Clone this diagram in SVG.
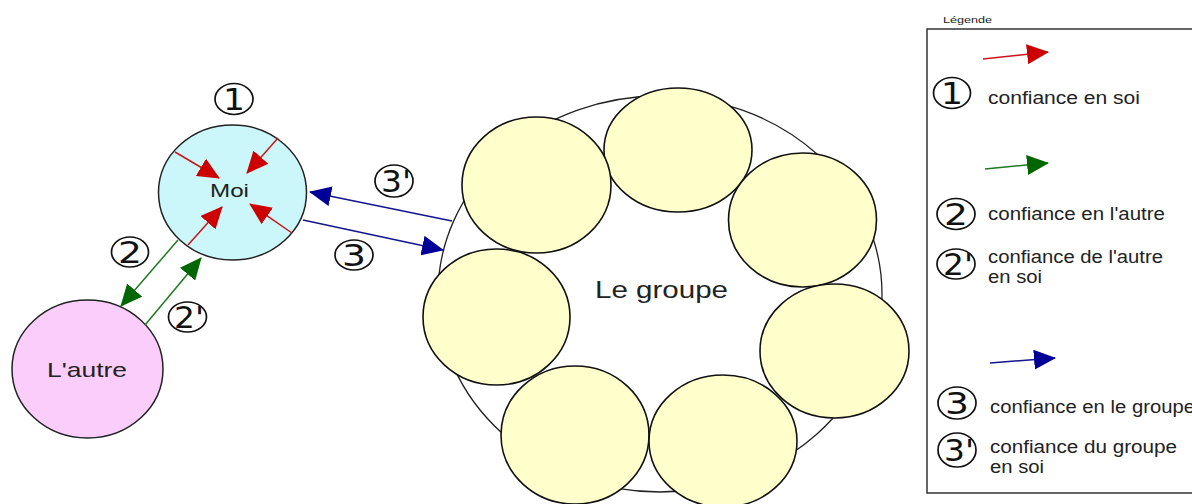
<svg xmlns="http://www.w3.org/2000/svg" width="1192" height="504" viewBox="0 0 1192 504">
  <style>
    .lbl { font-family: "Liberation Sans", Arial, sans-serif; fill: #222; }
    .num { font-family: "DejaVu Sans", sans-serif; font-size: 31px; fill: #111; text-anchor: middle; }
    .ring { fill: none; stroke: #111; stroke-width: 1.7; }
    .member { fill: #ffffcc; stroke: #111; stroke-width: 1.6; }
    .red { stroke: #c8161b; stroke-width: 1.5; fill: none; }
    .green { stroke: #1e7a1e; stroke-width: 1.5; fill: none; }
    .blue { stroke: #14148c; stroke-width: 1.5; fill: none; }
  </style>
  <defs>
    <marker id="ah-red" markerWidth="22" markerHeight="20" refX="21" refY="10" orient="auto" markerUnits="userSpaceOnUse">
      <path d="M0,0 L22,10 L0,20 z" fill="#cc0000"/>
    </marker>
    <marker id="ah-green" markerWidth="22" markerHeight="20" refX="21" refY="10" orient="auto" markerUnits="userSpaceOnUse">
      <path d="M0,0 L22,10 L0,20 z" fill="#006600"/>
    </marker>
    <marker id="ah-blue" markerWidth="22" markerHeight="20" refX="21" refY="10" orient="auto" markerUnits="userSpaceOnUse">
      <path d="M0,0 L22,10 L0,20 z" fill="#000099"/>
    </marker>
  </defs>

  <rect width="1192" height="504" fill="#ffffff"/>

  <!-- group: outer ring and its members -->
  <g id="groupe">
    <ellipse cx="660" cy="294" rx="222" ry="198" fill="#ffffff" stroke="#222" stroke-width="1.3"/>
    <ellipse class="member" cx="678" cy="150" rx="74" ry="62"/>
    <ellipse class="member" cx="536.5" cy="185" rx="74.5" ry="68"/>
    <ellipse class="member" cx="802.5" cy="220" rx="74" ry="67"/>
    <ellipse class="member" cx="496.5" cy="317" rx="73.5" ry="68"/>
    <ellipse class="member" cx="834.5" cy="351" rx="74.5" ry="67"/>
    <ellipse class="member" cx="575" cy="435" rx="74" ry="69"/>
    <ellipse class="member" cx="723" cy="441" rx="74" ry="66"/>
    <text class="lbl" x="595" y="298" font-size="23" textLength="133" lengthAdjust="spacingAndGlyphs">Le groupe</text>
  </g>

  <!-- self -->
  <g id="moi">
    <ellipse cx="232.5" cy="192.5" rx="74" ry="67.5" fill="#ccf7fa" stroke="#222" stroke-width="1.5"/>
    <text class="lbl" x="210" y="197" font-size="19" textLength="39" lengthAdjust="spacingAndGlyphs">Moi</text>
  </g>

  <!-- the other -->
  <g id="autre">
    <ellipse cx="87.5" cy="369" rx="75.5" ry="69" fill="#fbcdfb" stroke="#222" stroke-width="1.5"/>
    <text class="lbl" x="47" y="377" font-size="21" textLength="80" lengthAdjust="spacingAndGlyphs">L'autre</text>
  </g>

  <!-- connectors -->
  <g id="connectors">
    <line class="red" x1="175" y1="152" x2="219" y2="178" marker-end="url(#ah-red)"/>
    <line class="red" x1="278" y1="138" x2="247" y2="173" marker-end="url(#ah-red)"/>
    <line class="red" x1="188" y1="245" x2="222" y2="207" marker-end="url(#ah-red)"/>
    <line class="red" x1="292" y1="233" x2="250" y2="204" marker-end="url(#ah-red)"/>

    <line class="green" x1="178" y1="240" x2="121" y2="306" marker-end="url(#ah-green)"/>
    <line class="green" x1="145" y1="325" x2="201" y2="258" marker-end="url(#ah-green)"/>

    <line class="blue" x1="452" y1="221" x2="310" y2="192" marker-end="url(#ah-blue)"/>
    <line class="blue" x1="303" y1="220" x2="443" y2="250" marker-end="url(#ah-blue)"/>
  </g>

  <!-- circled markers on the drawing -->
  <g id="n1">
    <ellipse class="ring" cx="234" cy="99" rx="19" ry="15.5"/>
    <text class="num" x="234" y="110" textLength="22" lengthAdjust="spacingAndGlyphs">1</text>
  </g>
  <g id="n2">
    <ellipse class="ring" cx="130" cy="252" rx="18.5" ry="15"/>
    <text class="num" x="130" y="263" textLength="24" lengthAdjust="spacingAndGlyphs">2</text>
  </g>
  <g id="n2p">
    <ellipse class="ring" cx="187.5" cy="317" rx="19" ry="15"/>
    <text class="num" x="189" y="328" textLength="30" lengthAdjust="spacingAndGlyphs">2'</text>
  </g>
  <g id="n3p">
    <ellipse class="ring" cx="394" cy="181" rx="19" ry="16"/>
    <text class="num" x="396" y="192" textLength="30" lengthAdjust="spacingAndGlyphs">3'</text>
  </g>
  <g id="n3">
    <ellipse class="ring" cx="354" cy="255" rx="19" ry="15"/>
    <text class="num" x="354" y="266" textLength="24" lengthAdjust="spacingAndGlyphs">3</text>
  </g>

  <!-- legend -->
  <g id="legende">
    <text class="lbl" x="943" y="23" font-size="9" textLength="49" lengthAdjust="spacingAndGlyphs">Légende</text>
    <rect x="927" y="29" width="300" height="464" fill="#ffffff" stroke="#333" stroke-width="1.5"/>

    <line class="red" x1="983" y1="59" x2="1048" y2="52" marker-end="url(#ah-red)"/>
    <g id="leg-n1">
      <ellipse class="ring" cx="952" cy="93" rx="18.5" ry="15.5"/>
      <text class="num" x="952" y="104" textLength="22" lengthAdjust="spacingAndGlyphs">1</text>
    </g>
    <text class="lbl" x="988" y="104" font-size="17.5" textLength="152" lengthAdjust="spacingAndGlyphs">confiance en soi</text>

    <line class="green" x1="985" y1="169" x2="1048" y2="163" marker-end="url(#ah-green)"/>
    <g id="leg-n2">
      <ellipse class="ring" cx="956" cy="214" rx="19" ry="15.5"/>
      <text class="num" x="956" y="225" textLength="24" lengthAdjust="spacingAndGlyphs">2</text>
    </g>
    <text class="lbl" x="988" y="220" font-size="17.5" textLength="177" lengthAdjust="spacingAndGlyphs">confiance en l'autre</text>
    <g id="leg-n2p">
      <ellipse class="ring" cx="956" cy="264" rx="19" ry="15"/>
      <text class="num" x="958" y="275" textLength="30" lengthAdjust="spacingAndGlyphs">2'</text>
    </g>
    <text class="lbl" x="988" y="263" font-size="17.5" textLength="175" lengthAdjust="spacingAndGlyphs">confiance de l'autre</text>
    <text class="lbl" x="988" y="283" font-size="17.5" textLength="54" lengthAdjust="spacingAndGlyphs">en soi</text>

    <line class="blue" x1="990" y1="363" x2="1055" y2="358" marker-end="url(#ah-blue)"/>
    <g id="leg-n3">
      <ellipse class="ring" cx="957" cy="403" rx="19" ry="16"/>
      <text class="num" x="957" y="414" textLength="24" lengthAdjust="spacingAndGlyphs">3</text>
    </g>
    <text class="lbl" x="990" y="413" font-size="17.5" textLength="205" lengthAdjust="spacingAndGlyphs">confiance en le groupe</text>
    <g id="leg-n3p">
      <ellipse class="ring" cx="957" cy="450" rx="19" ry="17"/>
      <text class="num" x="959" y="461" textLength="30" lengthAdjust="spacingAndGlyphs">3'</text>
    </g>
    <text class="lbl" x="990" y="453" font-size="17.5" textLength="187" lengthAdjust="spacingAndGlyphs">confiance du groupe</text>
    <text class="lbl" x="990" y="473" font-size="17.5" textLength="54" lengthAdjust="spacingAndGlyphs">en soi</text>
  </g>
</svg>
